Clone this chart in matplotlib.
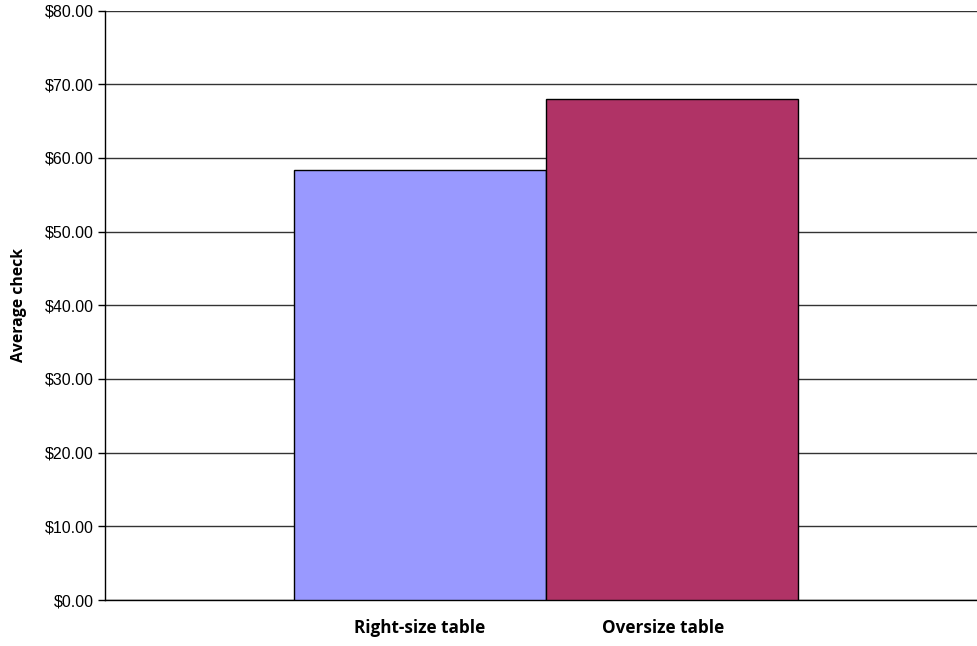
import matplotlib
matplotlib.use("Agg")
import matplotlib.pyplot as plt
import matplotlib.transforms as mtransforms
from matplotlib.ticker import FuncFormatter

categories = ["Right-size table", "Oversize table"]
values = [58.4, 68.0]
colors = ["#9999FF", "#B03366"]
yticks = [0, 10, 20, 30, 40, 50, 60, 70, 80]

fig = plt.figure(figsize=(9.78, 6.46), dpi=100)
ax = fig.add_axes([105/978, 46/646, 873/978, 589.5/646])

x = [0, 1]
ax.bar(x, values, width=1.0, color=colors, edgecolor="black", linewidth=1.0, zorder=3)

ax.set_ylim(0, 80)
ax.set_xlim(-1.25, 2.214)
ax.set_yticks(yticks)
ax.yaxis.set_major_formatter(FuncFormatter(lambda v, p: f"${v:.2f}"))
ax.tick_params(axis="y", labelsize=11.5, length=5, width=1, color="black", pad=3)
for lab in ax.get_yticklabels():
    lab.set_family("Liberation Sans")
ax.grid(axis="y", color="#333333", linewidth=1.0, zorder=0)
ax.set_axisbelow(True)

ax.set_xticks(x)
ax.set_xticklabels(categories, fontsize=12.3, fontweight="bold", family="Open Sans")
ax.tick_params(axis="x", length=0, pad=14)
labs = ax.get_xticklabels()
labs[1].set_transform(labs[1].get_transform() + mtransforms.ScaledTranslation(-9/100, 0, fig.dpi_scale_trans))

ax.spines["top"].set_visible(False)
ax.spines["right"].set_visible(False)
ax.spines["left"].set_linewidth(1.0)
ax.spines["bottom"].set_linewidth(1.0)

ax.set_ylabel("Average check", fontsize=11.3, fontweight="bold", family="Open Sans")
ax.yaxis.set_label_coords(-78/873, 0.5)

fig.savefig("out.png", dpi=100)
